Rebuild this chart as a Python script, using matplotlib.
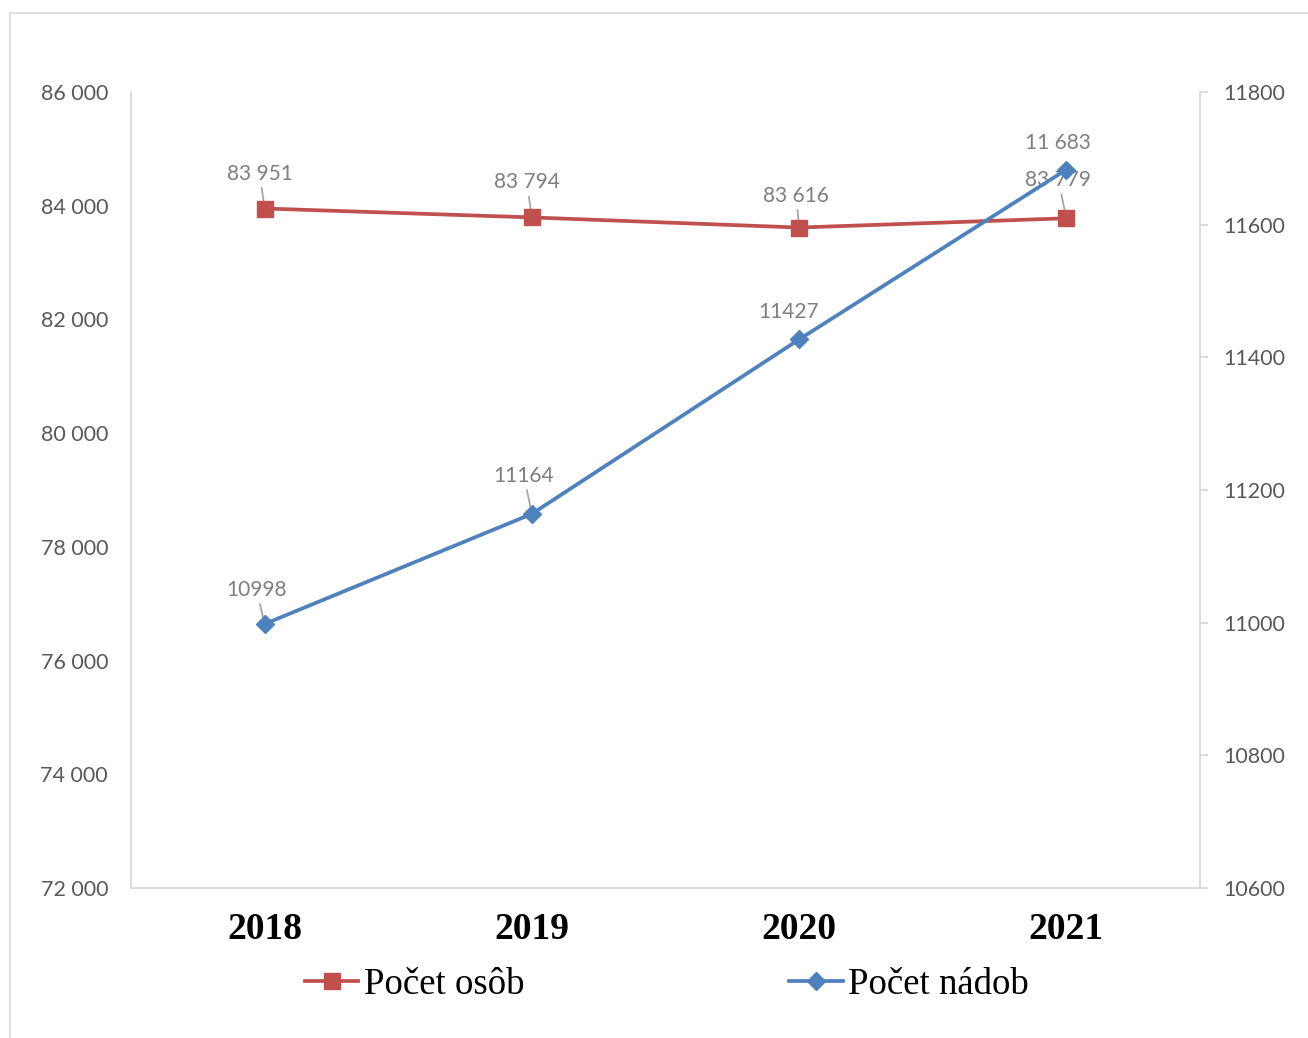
import matplotlib
matplotlib.use("Agg")
import matplotlib.pyplot as plt
from matplotlib.patches import Rectangle

years = ["2018", "2019", "2020", "2021"]
persons = [83951, 83794, 83616, 83779]
containers = [10998, 11164, 11427, 11683]
person_labels = ["83 951", "83 794", "83 616", "83 779"]
container_labels = ["10998", "11164", "11427", "11 683"]
left_ticks = [72000, 74000, 76000, 78000, 80000, 82000, 84000, 86000]
left_ticklabels = ["72 000", "74 000", "76 000", "78 000", "80 000", "82 000", "84 000", "86 000"]
right_ticks = [10600, 10800, 11000, 11200, 11400, 11600, 11800]

RED = "#C0504D"
BLUE = "#4F81BD"
GRID = "#D9D9D9"
TICK = "#595959"
LAB = "#7F7F7F"
LEADER = "#A6A6A6"
SANS = "Lato"
SERIF = "Liberation Serif"

W, H = 1308, 1038
fig = plt.figure(figsize=(W / 100, H / 100), dpi=100)
fig.patches.append(Rectangle((10 / W, -0.1), 1.2, (H - 13) / H + 0.1,
                             transform=fig.transFigure, fill=False,
                             edgecolor=GRID, linewidth=1.2))

ax = fig.add_axes([131 / W, 1 - 888 / H, (1200 - 131) / W, (888 - 92) / H])
ax2 = ax.twinx()
x = list(range(len(years)))

LW = 2.7
ax.plot(x, persons, color=RED, lw=LW, marker="s", markersize=12,
        markerfacecolor=RED, markeredgecolor=RED, zorder=3)
ax2.plot(x, containers, color=BLUE, lw=LW, marker="D", markersize=9.5,
         markerfacecolor=BLUE, markeredgecolor=BLUE, zorder=3)

ax.set_xlim(-0.5, 3.5)
ax.set_ylim(72000, 86000)
ax2.set_ylim(10600, 11800)
ax.set_yticks(left_ticks)
ax.set_yticklabels(left_ticklabels)
ax2.set_yticks(right_ticks)
ax2.set_yticklabels([str(t) for t in right_ticks])
ax.set_xticks(x)
ax.set_xticklabels(years, fontfamily=SERIF, fontweight="bold",
                   fontsize=27, color="black")

for a in (ax, ax2):
    for s in a.spines.values():
        s.set_color(GRID)
        s.set_linewidth(1.3)
    a.spines["top"].set_visible(False)
ax.spines["right"].set_visible(False)
ax2.spines["left"].set_visible(False)
ax2.spines["bottom"].set_visible(False)

ax.tick_params(axis="y", length=0, pad=16.5, labelsize=15.5, labelcolor=TICK,
               labelfontfamily=SANS)
ax.tick_params(axis="x", length=0, pad=17)
ax2.tick_params(axis="y", length=6, width=1.3, color=GRID, pad=10.5,
                labelsize=15.5, labelcolor=TICK, labelfontfamily=SANS)

PX = 0.72  # points per pixel at 100 dpi
lab_kw = dict(fontsize=15, color=LAB, fontfamily=SANS,
              ha="center", va="center")

p_offsets = [(-5, 35), (-5, 35), (-3, 32), (-8, 38)]
for xi, v, s, off in zip(x, persons, person_labels, p_offsets):
    ax.annotate(s, (xi, v), xytext=(off[0] * PX, off[1] * PX),
                textcoords="offset points",
                arrowprops=dict(arrowstyle="-", color=LEADER, lw=1.3,
                                shrinkA=1, shrinkB=2), zorder=2, **lab_kw)

c_offsets = [(-8, 34), (-8, 38), (-11, 27), (-8, 27)]
c_leader = [True, True, False, False]
for xi, v, s, off, lead in zip(x, containers, container_labels, c_offsets, c_leader):
    kw = {}
    if lead:
        kw["arrowprops"] = dict(arrowstyle="-", color=LEADER, lw=1.3,
                                shrinkA=1, shrinkB=2)
    ax2.annotate(s, (xi, v), xytext=(off[0] * PX, off[1] * PX),
                 textcoords="offset points", zorder=2, **kw, **lab_kw)

h1, = ax.plot([], [], color=RED, lw=LW, marker="s", markersize=12)
h2, = ax2.plot([], [], color=BLUE, lw=LW, marker="D", markersize=9.5)
fig.legend([h1, h2], ["Počet osôb", "Počet nádob"], loc="center",
           bbox_to_anchor=(667 / W, 1 - 985 / H), ncol=2, frameon=False,
           prop={"family": SERIF, "size": 26.5},
           handlelength=1.45, handletextpad=0.15, columnspacing=7.2)

fig.savefig("out.png", dpi=100)
